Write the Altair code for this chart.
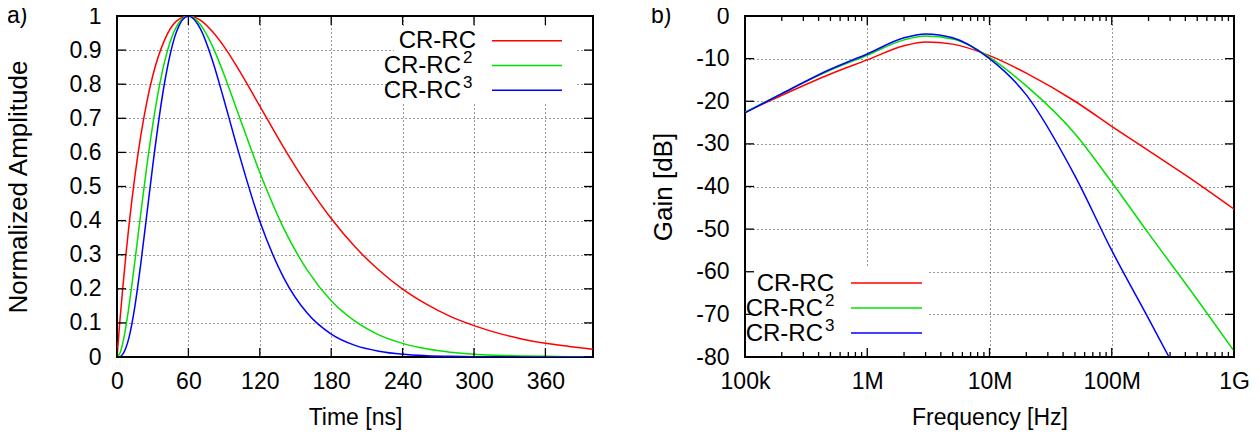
import altair as alt
import pandas as pd

# ---------------- data: panel a (time domain) ----------------
time_ns = [0, 2.5, 5, 7.5, 10, 15, 20, 25, 30, 40, 50, 60, 70, 80, 90, 100, 120, 140,
           160, 180, 200, 220, 240, 260, 280, 300, 320, 340, 360, 380, 400]
amp_crrc = [0, 0.109, 0.208, 0.300, 0.384, 0.529, 0.649, 0.747, 0.824, 0.930, 0.985, 1.0,
            0.988, 0.955, 0.910, 0.856, 0.736, 0.615, 0.504, 0.406, 0.323, 0.255, 0.199,
            0.155, 0.119, 0.092, 0.070, 0.053, 0.040, 0.031, 0.023]
amp_crrc2 = [0, 0.012, 0.043, 0.090, 0.147, 0.280, 0.422, 0.558, 0.680, 0.866, 0.969, 1.0,
             0.975, 0.913, 0.828, 0.732, 0.541, 0.378, 0.254, 0.165, 0.105, 0.065, 0.040,
             0.024, 0.014, 0.008, 0.005, 0.003, 0.002, 0.001, 0.0005]
amp_crrc3 = [0, 0.001, 0.009, 0.027, 0.056, 0.148, 0.274, 0.416, 0.560, 0.805, 0.954, 1.0,
             0.963, 0.872, 0.753, 0.627, 0.398, 0.233, 0.128, 0.067, 0.034, 0.017, 0.008,
             0.004, 0.002, 0.001, 0.0003, 0.0002, 0.0001, 0, 0]

# ---------------- data: panel b (frequency domain) ----------------
freq_hz = [1e5, 2e5, 5e5, 1e6, 2e6, 3e6, 5e6, 1e7, 2e7, 5e7, 1e8, 2e8, 5e8, 1e9]
gain_crrc = [-22.6, -18.6, -13.6, -10.3, -7.0, -6.1, -6.6, -9.3, -13.4, -20.0, -25.9,
             -31.6, -39.2, -45.3]
gain_crrc2 = [-22.6, -18.2, -12.7, -9.2, -5.6, -4.7, -5.4, -9.7, -16.4, -27.6, -39.0,
              -51.0, -66.5, -78.6]
freq_hz3 = [1e5, 2e5, 5e5, 1e6, 2e6, 3e6, 5e6, 1e7, 2e7, 5e7, 1e8, 2e8, 2.94e8]
gain_crrc3 = [-22.7, -18.2, -12.5, -8.9, -5.1, -4.2, -5.1, -10.0, -18.5, -37.5, -55.0,
              -71.0, -80.0]

series_names = ["CR-RC", "CR-RC2", "CR-RC3"]
series_colors = ["#ff0000", "#00e000", "#0000ff"]
legend_base = ["CR-RC", "CR-RC", "CR-RC"]
legend_sup = ["", "2", "3"]

xticks_a = [0, 60, 120, 180, 240, 300, 360]
yticks_a = [0, 0.1, 0.2, 0.3, 0.4, 0.5, 0.6, 0.7, 0.8, 0.9, 1]
xticks_b = [1e5, 1e6, 1e7, 1e8, 1e9]
xlabels_b = ["100k", "1M", "10M", "100M", "1G"]
xminor_b = [m * 10 ** e for e in range(5, 9) for m in range(2, 10)]
yticks_b = [0, -10, -20, -30, -40, -50, -60, -70, -80]

FONT = "Liberation Sans"
FS = 23
FS_YT = 26
WA, WB, H = 476, 489, 341
MAJ, MIN = 9, 5

df_a = pd.DataFrame({
    "t": time_ns * 3,
    "amp": amp_crrc + amp_crrc2 + amp_crrc3,
    "series": [series_names[0]] * len(time_ns) + [series_names[1]] * len(time_ns)
              + [series_names[2]] * len(time_ns),
})
df_b = pd.DataFrame({
    "f": freq_hz + freq_hz + freq_hz3,
    "gain": gain_crrc + gain_crrc2 + gain_crrc3,
    "series": [series_names[0]] * len(freq_hz) + [series_names[1]] * len(freq_hz)
              + [series_names[2]] * len(freq_hz3),
})

color = alt.Color("series:N", scale=alt.Scale(domain=series_names, range=series_colors),
                  legend=None)

grid_kw = dict(grid=True, gridColor="black", gridDash=[1, 3], gridWidth=1, gridOpacity=0.8,
               ticks=False, tickSize=0, domain=False, labelFontSize=FS, labelColor="black",
               labelFont=FONT, titleFont=FONT, titleFontWeight="normal",
               titleColor="black", labelOverlap=False)


def tick_layers(xscale, yscale, xaxis, yaxis, xmaj, ymaj, width, xmin=None):
    layers = []
    dx = pd.DataFrame({"v": xmaj})
    dy = pd.DataFrame({"v": ymaj})
    xenc = alt.X("v:Q", scale=xscale, axis=xaxis)
    yenc = alt.Y("v:Q", scale=yscale, axis=yaxis)
    layers.append(alt.Chart(dx).mark_rule(color="black", strokeWidth=1.3).encode(
        x=xenc, y=alt.value(H), y2=alt.value(H - MAJ)))
    layers.append(alt.Chart(dx).mark_rule(color="black", strokeWidth=1.3).encode(
        x=xenc, y=alt.value(0), y2=alt.value(MAJ)))
    layers.append(alt.Chart(dy).mark_rule(color="black", strokeWidth=1.3).encode(
        y=yenc, x=alt.value(0), x2=alt.value(MAJ)))
    layers.append(alt.Chart(dy).mark_rule(color="black", strokeWidth=1.3).encode(
        y=yenc, x=alt.value(width), x2=alt.value(width - MAJ)))
    if xmin is not None:
        dm = pd.DataFrame({"v": xmin})
        layers.append(alt.Chart(dm).mark_rule(color="black", strokeWidth=1.3).encode(
            x=xenc, y=alt.value(H), y2=alt.value(H - MIN)))
        layers.append(alt.Chart(dm).mark_rule(color="black", strokeWidth=1.3).encode(
            x=xenc, y=alt.value(0), y2=alt.value(MIN)))
    return layers


def legend_layers(box, text_right, base_right, sup_left, samp, y0, step):
    layers = [alt.Chart(pd.DataFrame({"k": [0]})).mark_rect(color="white").encode(
        x=alt.value(box[0]), x2=alt.value(box[1]), y=alt.value(box[2]), y2=alt.value(box[3]))]
    for i, (base, sup, col) in enumerate(zip(legend_base, legend_sup, series_colors)):
        yl = y0 + i * step
        d = pd.DataFrame({"b": [base], "s": [sup]})
        right = text_right if sup == "" else base_right
        layers.append(alt.Chart(d).mark_text(align="right", baseline="alphabetic",
                                             fontSize=FS + 1, font=FONT, color="black").encode(
            text="b:N", x=alt.value(right), y=alt.value(yl + 7.5)))
        if sup:
            layers.append(alt.Chart(d).mark_text(align="left", baseline="alphabetic",
                                                 fontSize=17, font=FONT, color="black").encode(
                text="s:N", x=alt.value(sup_left), y=alt.value(yl - 2.5)))
        layers.append(alt.Chart(d).mark_rule(color=col, strokeWidth=1.5).encode(
            x=alt.value(samp[0]), x2=alt.value(samp[1]), y=alt.value(yl)))
    return layers


def panel_label(txt, x):
    return alt.Chart(pd.DataFrame({"s": [txt]})).mark_text(
        align="left", baseline="alphabetic", fontSize=FS, font=FONT, color="black").encode(
        text="s:N", x=alt.value(x), y=alt.value(7))


# ---------------- panel a ----------------
xs_a = alt.Scale(domain=[0, 400], nice=False, zero=False)
ys_a = alt.Scale(domain=[0, 1], nice=False)
xax_a = alt.Axis(values=xticks_a, labelPadding=13, labelFlush=False, title="Time [ns]",
                 titleFontSize=FS, titleY=67, titleBaseline="alphabetic", **grid_kw)
yax_a = alt.Axis(values=yticks_a, format="~g", labelPadding=16, title="Normalized Amplitude",
                 titleFontSize=FS_YT, titleX=-91, titleY=H / 2, titleBaseline="alphabetic",
                 **grid_kw)
lines_a = alt.Chart(df_a).mark_line(strokeWidth=1.5, interpolate="monotone", clip=True).encode(
    x=alt.X("t:Q", scale=xs_a, axis=xax_a),
    y=alt.Y("amp:Q", scale=ys_a, axis=yax_a),
    color=color, order=alt.Order("series:N"))

panel_a = alt.layer(
    lines_a,
    *legend_layers((277, 458, 11, 88), 359, 344, 346, (375, 445), 24.7, 24.8),
    *tick_layers(xs_a, ys_a, xax_a, yax_a, xticks_a, yticks_a, WA),
    panel_label("a)", -110),
).properties(width=WA, height=H)

# ---------------- panel b ----------------
xs_b = alt.Scale(type="log", domain=[1e5, 1e9], nice=False)
ys_b = alt.Scale(domain=[-80, 0], nice=False, zero=False)
lab_expr = " : ".join(
    f"datum.value == {v:g} ? '{l}'" for v, l in zip(xticks_b, xlabels_b)) + " : ''"
xax_b = alt.Axis(values=xticks_b, labelExpr=lab_expr, labelPadding=13, labelFlush=False,
                 title="Frequency [Hz]", titleFontSize=FS, titleY=67,
                 titleBaseline="alphabetic", **grid_kw)
yax_b = alt.Axis(values=yticks_b, labelExpr="'' + datum.value", labelPadding=16,
                 title="Gain [dB]", titleFontSize=FS_YT, titleX=-74, titleY=H / 2,
                 titleBaseline="alphabetic", **grid_kw)
lines_b = alt.Chart(df_b).mark_line(strokeWidth=1.5, interpolate="monotone", clip=True).encode(
    x=alt.X("f:Q", scale=xs_b, axis=xax_b),
    y=alt.Y("gain:Q", scale=ys_b, axis=yax_b),
    color=color, order=alt.Order("series:N"))

panel_b = alt.layer(
    lines_b,
    *legend_layers((1, 184, 252, 330), 89, 78, 80, (106, 177), 267, 25),
    *tick_layers(xs_b, ys_b, xax_b, yax_b, xticks_b, yticks_b, WB, xmin=xminor_b),
    panel_label("b)", -94),
).properties(width=WB, height=H)

chart = alt.hconcat(panel_a, panel_b, spacing=152, bounds="flush").properties(
    padding={"left": -4, "top": -4, "right": 0, "bottom": 0}
).configure(font=FONT).configure_view(stroke="black", strokeWidth=2).configure_axis(
    labelOverlap=False)

chart.save("out.html", embed_options={"renderer": "svg", "actions": False})
